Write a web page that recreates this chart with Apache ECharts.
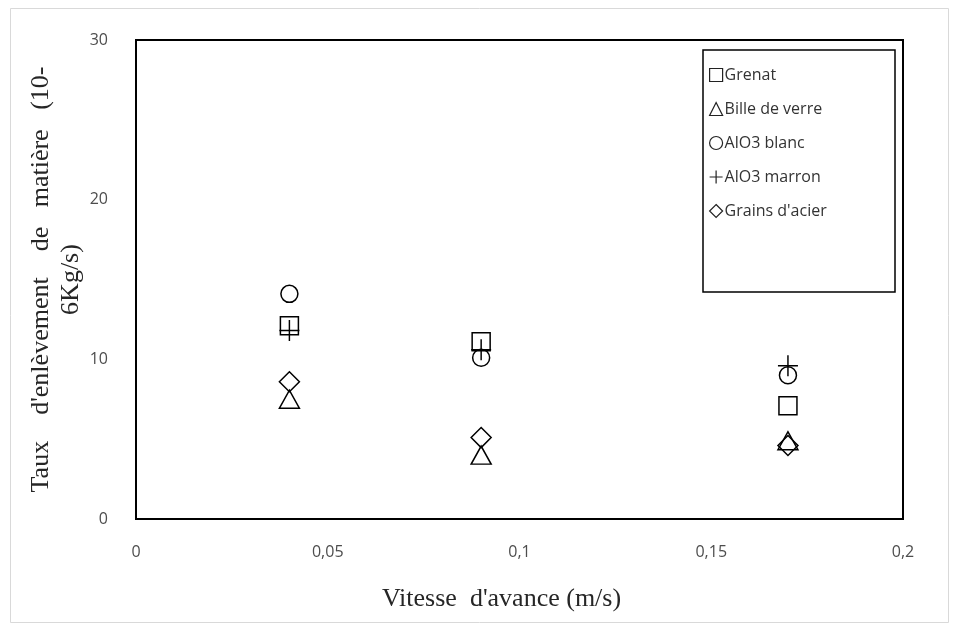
<!DOCTYPE html>
<html><head><meta charset="utf-8">
<script src="https://cdn.jsdelivr.net/npm/echarts@6/dist/echarts.min.js"></script>
<style>html,body{margin:0;padding:0;background:#fff}#c{width:957px;height:637px}</style>
</head><body><div id="c"></div>
<script>
const xValues = [0.04, 0.09, 0.17];
const seriesNames = ['Grenat', 'Bille de verre', 'AlO3 blanc', 'AlO3 marron', "Grains d'acier"];
const grenat = [12.1, 11.1, 7.1];
const billeVerre = [7.5, 4.0, 4.9];
const alo3Blanc = [14.1, 10.1, 9.0];
const alo3Marron = [11.8, 10.6, 9.6];
const grainsAcier = [8.6, 5.1, 4.6];
const xTicks = [0, 0.05, 0.1, 0.15, 0.2];
const yTicks = [0, 10, 20, 30];

const valuesList = [grenat, billeVerre, alo3Blanc, alo3Marron, grainsAcier];
const symbols = ['rect', 'triangle', 'circle', 'path://M10,0 L10,20 M0,10 L20,10', 'diamond'];
const sizes = [18, [20, 18], 17, [20, 21], [20, 20]];

const chart = echarts.init(document.getElementById('c'), null, {renderer: 'canvas'});
const series = seriesNames.map((n, i) => ({
  name: n,
  type: 'scatter',
  symbol: symbols[i],
  symbolSize: sizes[i],
  itemStyle: {color: 'rgba(0,0,0,0)', borderColor: '#000', borderWidth: 1.5, opacity: 1},
  emphasis: {disabled: true},
  data: xValues.map((x, j) => [x, valuesList[i][j]])
}));

chart.setOption({
  animation: false,
  backgroundColor: '#fff',
  graphic: [
    {type: 'rect', shape: {x: 10.5, y: 8.5, width: 938, height: 614}, style: {fill: 'none', stroke: '#d9d9d9', lineWidth: 1}, z: -10},
    {type: 'rect', shape: {x: 703, y: 50, width: 192, height: 242}, style: {fill: '#fff', stroke: '#000', lineWidth: 1.5}, z: 5}
  ],
  grid: {left: 136, top: 40, right: 54, bottom: 118, show: true, borderColor: '#000', borderWidth: 2, backgroundColor: 'transparent'},
  legend: {
    data: seriesNames,
    orient: 'vertical',
    left: 704, top: 62,
    itemWidth: 13, itemHeight: 13,
    itemGap: 18,
    z: 10,
    textStyle: {fontFamily: 'Open Sans', fontSize: 16, color: '#333', padding: [0, 0, 0, -3]},
    itemStyle: {color: 'rgba(0,0,0,0)', borderColor: '#222', borderWidth: 1.2}
  },
  xAxis: {
    type: 'value', min: 0, max: 0.2, interval: 0.05,
    name: "Vitesse  d'avance (m/s)", nameLocation: 'middle', nameGap: 67, nameMoveOverlap: false,
    nameTextStyle: {fontFamily: 'Liberation Serif', fontSize: 26, color: '#262626', padding: [0, 36, 0, 0]},
    axisLine: {show: true, lineStyle: {color: '#000', width: 2}},
    axisTick: {show: false}, splitLine: {show: false},
    axisLabel: {margin: 25, fontFamily: 'Open Sans', fontSize: 16, color: '#4d4d4d',
      formatter: v => { const t = xTicks.find(k => Math.abs(k - v) < 1e-9); return String(t !== undefined ? t : v).replace('.', ','); }}
  },
  yAxis: {
    type: 'value', min: 0, max: 30, interval: 10,
    name: "Taux    d'enlèvement    de   matière   (10-\n6Kg/s)", nameLocation: 'middle', nameGap: 50, nameRotate: 90, nameMoveOverlap: false,
    nameTextStyle: {fontFamily: 'Liberation Serif', fontSize: 26, color: '#262626', lineHeight: 30},
    axisLine: {show: true, lineStyle: {color: '#000', width: 2}},
    axisTick: {show: false}, splitLine: {show: false},
    axisLabel: {margin: 28, fontFamily: 'Open Sans', fontSize: 16, color: '#4d4d4d',
      formatter: v => String(yTicks.includes(v) ? v : v)}
  },
  series: series
});
</script></body></html>
